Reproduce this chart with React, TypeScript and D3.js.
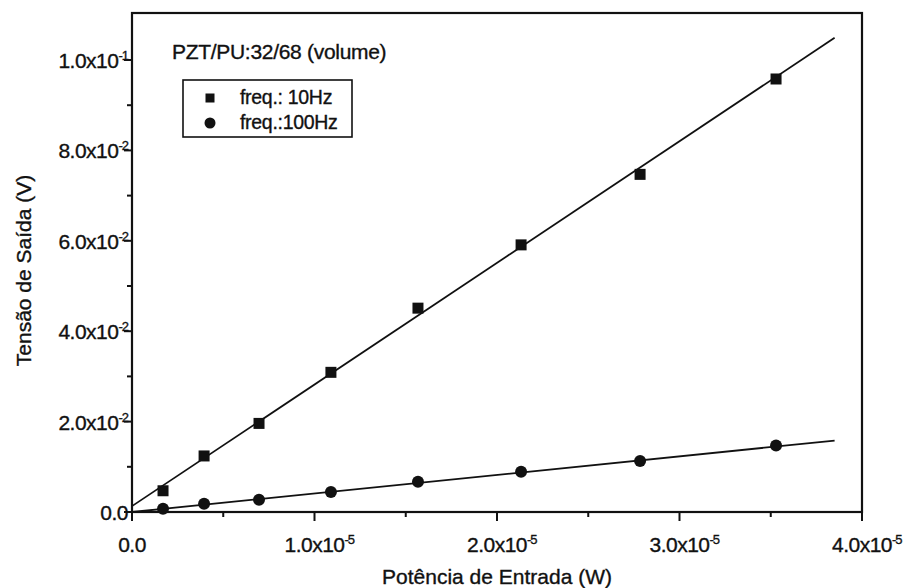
import React, { useEffect, useRef } from 'react';
import * as d3 from 'd3';

// values
const potencia = [0.17e-5, 0.395e-5, 0.696e-5, 1.09e-5, 1.567e-5, 2.132e-5, 2.784e-5, 3.529e-5];
const tensao10Hz = [0.0047, 0.0124, 0.0196, 0.0309, 0.0451, 0.0591, 0.0747, 0.0958];
const tensao100Hz = [0.0007, 0.0018, 0.0027, 0.0044, 0.0067, 0.0089, 0.0113, 0.0147];

// fitted lines (end points)
const fitX = [0, 3.85e-5];
const fit10Hz = [0.0013, 0.1049];
const fit100Hz = [0.0, 0.0158];

const xTicks = [0, 1e-5, 2e-5, 3e-5, 4e-5];
const xTickLabels = [['0.0', ''], ['1.0x10', '-5'], ['2.0x10', '-5'], ['3.0x10', '-5'], ['4.0x10', '-5']];
const xMinor = [0.5e-5, 1.5e-5, 2.5e-5, 3.5e-5];
const yTicks = [0, 0.02, 0.04, 0.06, 0.08, 0.1];
const yTickLabels = [['0.0', ''], ['2.0x10', '-2'], ['4.0x10', '-2'], ['6.0x10', '-2'], ['8.0x10', '-2'], ['1.0x10', '-1']];
const yMinor = [0.01, 0.03, 0.05, 0.07, 0.09];

const legendLabels = ['freq.: 10Hz', 'freq.:100Hz'];
const title = 'PZT/PU:32/68 (volume)';

const App = () => {
  const svgRef = useRef<SVGSVGElement>(null);

  useEffect(() => {
    const width = 907;
    const height = 588;
    const margin = { top: 13, right: 45, bottom: 76, left: 132 };
    const font = 'Arial, "Liberation Sans", sans-serif';
    const ink = '#111';

    d3.select(svgRef.current).selectAll('*').remove();
    const svg = d3.select(svgRef.current)
      .attr('width', width)
      .attr('height', height);

    svg.append('rect').attr('width', width).attr('height', height).attr('fill', '#fff');

    const x = d3.scaleLinear().domain([0, 4e-5]).range([margin.left, width - margin.right]);
    const y = d3.scaleLinear().domain([0, 0.1104]).range([height - margin.bottom, margin.top]);

    const x0 = x(0), x1 = x(4e-5), y0 = y(0), y1 = y(0.1104);

    // slightly heavier text, like the scanned original
    const txtStyle = (sel: any, size: number) => sel
      .attr('font-family', font).attr('font-size', size)
      .attr('fill', ink).attr('stroke', ink).attr('stroke-width', 0.35);

    // frame
    svg.append('rect')
      .attr('x', x0).attr('y', y1)
      .attr('width', x1 - x0).attr('height', y0 - y1)
      .attr('fill', 'none').attr('stroke', ink).attr('stroke-width', 2.2);

    // x ticks
    svg.selectAll('.xt').data(xTicks).enter().append('line')
      .attr('x1', d => x(d)).attr('x2', d => x(d))
      .attr('y1', y0).attr('y2', y0 + 9)
      .attr('stroke', ink).attr('stroke-width', 2);
    svg.selectAll('.xm').data(xMinor).enter().append('line')
      .attr('x1', d => x(d)).attr('x2', d => x(d))
      .attr('y1', y0).attr('y2', y0 + 5)
      .attr('stroke', ink).attr('stroke-width', 2);

    // y ticks
    svg.selectAll('.yt').data(yTicks).enter().append('line')
      .attr('x1', x0 - 8).attr('x2', x0)
      .attr('y1', d => y(d)).attr('y2', d => y(d))
      .attr('stroke', ink).attr('stroke-width', 2);
    svg.selectAll('.ym').data(yMinor).enter().append('line')
      .attr('x1', x0 - 5).attr('x2', x0)
      .attr('y1', d => y(d)).attr('y2', d => y(d))
      .attr('stroke', ink).attr('stroke-width', 2);

    // x tick labels: main part centred on tick, exponent appended
    xTicks.forEach((t, i) => {
      const [main, sup] = xTickLabels[i];
      const txt = txtStyle(svg.append('text'), 21)
        .attr('x', x(t)).attr('y', y0 + 40)
        .attr('letter-spacing', -0.5)
        .attr('text-anchor', 'middle')
        .text(main);
      if (sup) {
        const w = (txt.node() as SVGTextElement).getComputedTextLength();
        txtStyle(svg.append('text'), 13)
          .attr('x', x(t) + w / 2).attr('y', y0 + 32)
          .attr('letter-spacing', -1)
          .text(sup);
      }
    });

    // y tick labels, right aligned
    yTicks.forEach((t, i) => {
      const [main, sup] = yTickLabels[i];
      const txt = txtStyle(svg.append('text'), 21)
        .attr('x', x0 - 4).attr('y', y(t) + 8)
        .attr('letter-spacing', -0.5)
        .attr('text-anchor', 'end');
      txt.append('tspan').text(main);
      if (sup) txt.append('tspan').attr('font-size', 13).attr('dy', -8).attr('letter-spacing', -1).text(sup);
    });

    // axis titles
    txtStyle(svg.append('text'), 21)
      .attr('x', (x0 + x1) / 2).attr('y', 584)
      .attr('text-anchor', 'middle')
      .text('Potência de Entrada (W)');

    txtStyle(svg.append('text'), 21)
      .attr('transform', `translate(31,${(y0 + y1) / 2 + 8}) rotate(-90)`)
      .attr('text-anchor', 'middle')
      .text('Tensão de Saída (V)');

    // fit lines
    const line = d3.line<[number, number]>().x(d => x(d[0])).y(d => y(d[1]));
    [fit10Hz, fit100Hz].forEach(fy => {
      svg.append('path')
        .datum(fitX.map((v, i) => [v, fy[i]] as [number, number]))
        .attr('d', line)
        .attr('fill', 'none').attr('stroke', ink).attr('stroke-width', 1.8);
    });

    // markers
    svg.selectAll('.sq').data(potencia).enter().append('rect')
      .attr('x', (d) => x(d) - 5.5)
      .attr('y', (d, i) => y(tensao10Hz[i]) - 5.5)
      .attr('width', 11).attr('height', 11)
      .attr('fill', ink);
    svg.selectAll('.ci').data(potencia).enter().append('circle')
      .attr('cx', d => x(d))
      .attr('cy', (d, i) => y(tensao100Hz[i]))
      .attr('r', 6)
      .attr('fill', ink);

    // title
    txtStyle(svg.append('text'), 21)
      .attr('x', 172).attr('y', 59)
      .attr('letter-spacing', -0.3)
      .text(title);

    // legend
    const lg = svg.append('g').attr('transform', 'translate(183,80)');
    lg.append('rect').attr('width', 169).attr('height', 57)
      .attr('fill', '#fff').attr('stroke', ink).attr('stroke-width', 1.6);
    lg.append('rect').attr('x', 22.5).attr('y', 13.5).attr('width', 9).attr('height', 9).attr('fill', ink);
    lg.append('circle').attr('cx', 27).attr('cy', 43).attr('r', 5.5).attr('fill', ink);
    legendLabels.forEach((l, i) => {
      txtStyle(lg.append('text'), 19.5)
        .attr('x', 57).attr('y', 24 + i * 25)
        .attr('letter-spacing', -0.3)
        .text(l);
    });
  }, []);

  return (
    <svg ref={svgRef} style={{ position: 'absolute', left: 0, top: 0 }}></svg>
  );
};

export default App;
